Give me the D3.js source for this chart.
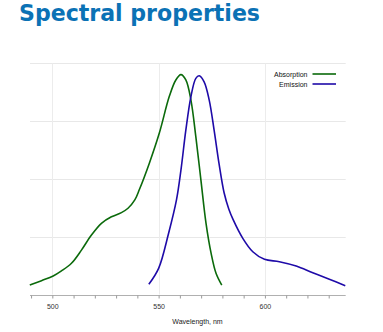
<!DOCTYPE html>
<html><head><meta charset="utf-8">
<script src="https://cdn.jsdelivr.net/npm/d3@7"></script>
<style>body{margin:0;background:#fff;}svg{display:block;}</style>
</head><body>
<svg id="c" width="383" height="332"></svg>
<script>
const title = "Spectral properties";
const xTitle = "Wavelength, nm";
const seriesNames = ["Absorption", "Emission"];
const absWl  = [489.4, 494.9, 500.4, 504.3, 509, 513.7, 518.4, 523.1, 527.8, 532.5, 535.6, 538.8, 541, 545.6, 550.3, 555, 558.1, 560.5, 562.8, 565.2, 567.5, 569.9, 572.3, 574.7, 577, 579.7];
const absVal = [0.041, 0.06, 0.08, 0.102, 0.135, 0.192, 0.257, 0.308, 0.336, 0.354, 0.373, 0.409, 0.455, 0.567, 0.697, 0.856, 0.928, 0.951, 0.928, 0.841, 0.683, 0.495, 0.308, 0.178, 0.092, 0.041];
const emWl   = [545.4, 550, 554.7, 558.4, 560.5, 562.8, 565.2, 567.5, 569.1, 571.4, 573.8, 576.1, 578.4, 580.8, 583, 585, 589.6, 594.3, 599.8, 606.8, 614.7, 622.5, 630.3, 637.8];
const emVal  = [0.044, 0.113, 0.265, 0.409, 0.538, 0.711, 0.856, 0.935, 0.946, 0.92, 0.841, 0.711, 0.567, 0.44, 0.37, 0.325, 0.243, 0.185, 0.152, 0.142, 0.123, 0.094, 0.066, 0.038];
const xMajor = [500, 550, 600];
const yGrid  = [0, 0.25, 0.5, 0.75, 1];
const colors = ["#0b6a0b", "#1e0aa8"];

const svg = d3.select("#c");
const x = d3.scaleLinear().domain([489.5, 638]).range([30, 345.7]);
const y = d3.scaleLinear().domain([0, 1]).range([294.5, 63.3]);

svg.append("text").attr("x", 19).attr("y", 21)
  .attr("font-family", "DejaVu Sans").attr("font-weight", "bold").attr("font-size", 23.5)
  .attr("fill", "#0b72b5").attr("textLength", 241).attr("lengthAdjust", "spacingAndGlyphs")
  .text(title);

// horizontal grid
svg.append("g").selectAll("line").data(yGrid.slice(1)).join("line")
  .attr("x1", x.range()[0]).attr("x2", x.range()[1])
  .attr("y1", d => Math.round(y(d)) + 0.5).attr("y2", d => Math.round(y(d)) + 0.5)
  .attr("stroke", "#e8e8e8").attr("stroke-width", 1);
// vertical grid
svg.append("g").selectAll("line").data(xMajor).join("line")
  .attr("x1", d => Math.round(x(d)) + 0.5).attr("x2", d => Math.round(x(d)) + 0.5)
  .attr("y1", y(1)).attr("y2", y(0))
  .attr("stroke", "#ececec").attr("stroke-width", 1);

// x axis
const ax = svg.append("g").attr("transform", `translate(0,${Math.round(y(0)) + 0.5})`)
  .call(d3.axisBottom(x).tickValues(d3.range(490, 640, 10)).tickSize(3).tickPadding(6)
    .tickFormat(d => xMajor.includes(d) ? d : ""));
ax.select(".domain").attr("stroke", "#b0b0b0").attr("d", `M${x.range()[0]},0H${x.range()[1]}`);
ax.selectAll(".tick line").attr("stroke", "#9a9a9a");
ax.selectAll(".tick text").attr("font-family", "Liberation Sans, Arial").attr("font-size", 7).attr("fill", "#333");

svg.append("text").attr("x", 197.5).attr("y", 324).attr("text-anchor", "middle")
  .attr("font-family", "Liberation Sans, Arial").attr("font-size", 7).attr("fill", "#222")
  .text(xTitle);

const line = d3.line().x(d => x(d[0])).y(d => y(d[1])).curve(d3.curveCatmullRom.alpha(0.5));
const series = [d3.zip(absWl, absVal), d3.zip(emWl, emVal)];
svg.append("g").selectAll("path").data(series).join("path")
  .attr("d", line).attr("fill", "none")
  .attr("stroke", (d, i) => colors[i]).attr("stroke-width", 1.6);

// legend
const lg = svg.append("g").selectAll("g").data(seriesNames).join("g")
  .attr("transform", (d, i) => `translate(0,${74 + i * 10})`);
lg.append("text").attr("x", 307.5).attr("y", 2.5).attr("text-anchor", "end")
  .attr("font-family", "Liberation Sans, Arial").attr("font-size", 7).attr("fill", "#111")
  .text(d => d);
lg.append("line").attr("x1", 312.5).attr("x2", 336).attr("y1", 0).attr("y2", 0)
  .attr("stroke", (d, i) => colors[i]).attr("stroke-width", 1.6);
</script>
</body></html>
